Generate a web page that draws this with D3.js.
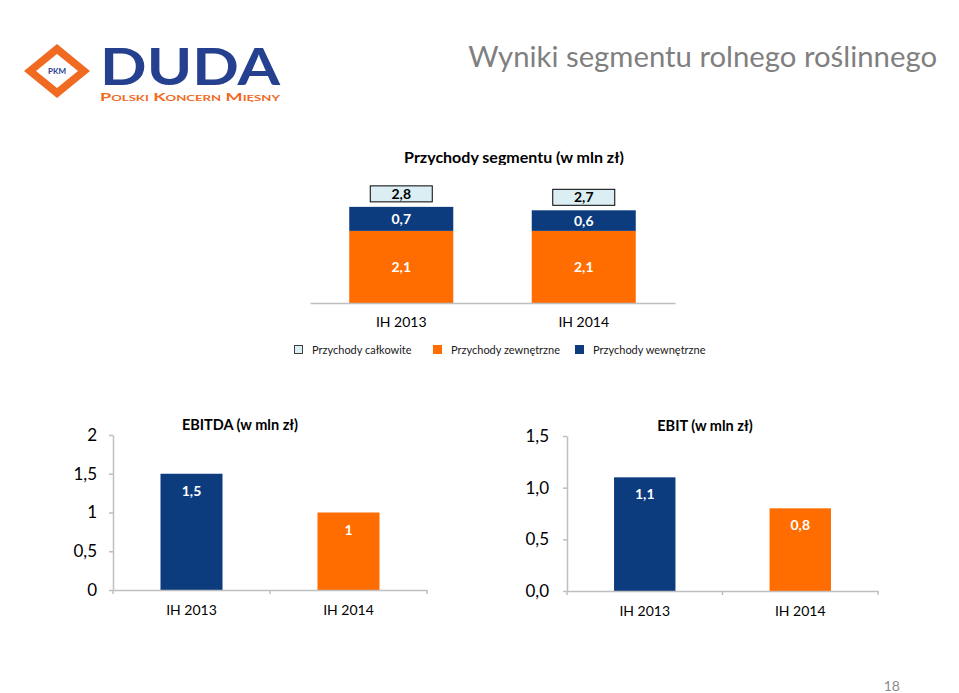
<!DOCTYPE html>
<html><head><meta charset="utf-8">
<script src="https://cdn.jsdelivr.net/npm/d3@7"></script>
<style>
body{margin:0;background:#fff}
svg{display:block}
text{font-family:Lato,"Open Sans",sans-serif}
</style>
</head><body>
<svg id="c" width="959" height="693"></svg>
<script>
// ---- data ----
const periods = ["IH 2013", "IH 2014"];
const revExternal = [2.1, 2.1];
const revInternal = [0.7, 0.6];
const revTotal = [2.8, 2.7];
const revLegend = ["Przychody całkowite", "Przychody zewnętrzne", "Przychody wewnętrzne"];
const ebitda = [1.5, 1];
const ebitdaTicks = [0, 0.5, 1, 1.5, 2];
const ebit = [1.1, 0.8];
const ebitTicks = [0, 0.5, 1.0, 1.5];

const NAVY = "#0c3c7e", ORANGE = "#ff6d00", GRID = "#bfbfbf";
const comma = s => String(s).replace(".", ",");
const fmtG = d => comma(d3.format("~g")(d));
const fmt1 = d => comma(d3.format(".1f")(d));

const svg = d3.select("#c");
svg.append("rect").attr("width", 959).attr("height", 693).attr("fill", "#fff");

// ---- header ----
svg.append("text").attr("x", 937).attr("y", 67).attr("text-anchor", "end")
  .attr("font-size", 29.3).attr("fill", "#7f7f7f").text("Wyniki segmentu rolnego roślinnego");

// logo
const logo = svg.append("g");
const cx = 57, cy = 71;
logo.append("path").attr("fill", "#f06a22")
  .attr("d", `M${cx-33},${cy} L${cx},${cy-27} L${cx+33},${cy} L${cx},${cy+27} Z`);
logo.append("path").attr("fill", "#fff")
  .attr("d", `M${cx-21},${cy} L${cx},${cy-17} L${cx+21},${cy} L${cx},${cy+17} Z`);
logo.append("text").attr("x", cx).attr("y", cy + 3).attr("text-anchor", "middle")
  .attr("font-size", 8).attr("font-weight", "bold").attr("fill", "#25408f").text("PKM");
logo.append("text").attr("x", 100).attr("y", 85).attr("font-size", 52)
  .attr("font-family", "'DejaVu Sans', sans-serif").attr("font-weight", "bold")
  .attr("textLength", 180).attr("lengthAdjust", "spacingAndGlyphs")
  .attr("fill", "#25408f").text("DUDA");
logo.append("text").attr("x", 100).attr("y", 101).attr("font-size", 11)
  .attr("font-family", "'Liberation Sans', sans-serif").attr("font-weight", "bold")
  .style("font-variant", "small-caps")
  .attr("textLength", 180).attr("lengthAdjust", "spacingAndGlyphs")
  .attr("fill", "#f06a22").text("Polski Koncern Mięsny");

// ---- top chart: revenue ----
const defs = svg.append("defs");
defs.append("clipPath").attr("id", "tclip").append("rect")
  .attr("x", 300).attr("y", 140).attr("width", 400).attr("height", 25);
svg.append("text").attr("clip-path", "url(#tclip)")
  .attr("x", 514).attr("y", 163).attr("text-anchor", "middle")
  .attr("font-size", 16).attr("font-weight", "bold").attr("fill", "#000")
  .text("Przychody segmentu (w mln zł)");

const tx = d3.scaleBand().domain(periods).range([310, 675]);
const ty = d3.scaleLinear().domain([0, 3]).range([303, 200]);
const tbw = tx.bandwidth() * 0.57;
const topG = svg.append("g");
periods.forEach((p, i) => {
  const x0 = tx(p) + (tx.bandwidth() - tbw) / 2, xc = tx(p) + tx.bandwidth() / 2;
  topG.append("rect").attr("x", x0).attr("width", tbw)
    .attr("y", ty(revExternal[i])).attr("height", ty(0) - ty(revExternal[i])).attr("fill", ORANGE);
  topG.append("rect").attr("x", x0).attr("width", tbw)
    .attr("y", ty(revExternal[i] + revInternal[i])).attr("height", ty(0) - ty(revInternal[i])).attr("fill", NAVY);
  topG.append("text").attr("x", xc).attr("y", (ty(0) + ty(revExternal[i])) / 2 + 5)
    .attr("text-anchor", "middle").attr("font-size", 14).attr("font-weight", "bold").attr("fill", "#fff")
    .text(fmt1(revExternal[i]));
  topG.append("text").attr("x", xc).attr("y", (ty(revExternal[i]) + ty(revExternal[i] + revInternal[i])) / 2 + 5)
    .attr("text-anchor", "middle").attr("font-size", 14).attr("font-weight", "bold").attr("fill", "#fff")
    .text(fmt1(revInternal[i]));
  const btop = ty(revExternal[i] + revInternal[i]) - 21;
  topG.append("rect").attr("x", xc - 31).attr("y", btop).attr("width", 62).attr("height", 16)
    .attr("fill", "#dbeef4").attr("stroke", "#000").attr("stroke-width", 1);
  topG.append("text").attr("x", xc).attr("y", btop + 13).attr("text-anchor", "middle")
    .attr("font-size", 14).attr("font-weight", "bold").attr("fill", "#000").text(fmt1(revTotal[i]));
});
const txAxis = topG.append("g").attr("transform", `translate(0,${ty(0)})`)
  .call(d3.axisBottom(tx).tickSize(0).tickPadding(14));
txAxis.select(".domain").attr("stroke", GRID).attr("stroke-width", 1.5);
txAxis.selectAll("text").attr("font-size", 14).attr("fill", "#000")
  .attr("font-family", "Lato,'Open Sans',sans-serif");

// legend
const legX = [294, 433, 575];
const legFill = ["#dbeef4", ORANGE, NAVY];
const legStroke = ["#404040", ORANGE, NAVY];
revLegend.forEach((t, i) => {
  topG.append("rect").attr("x", legX[i] + 0.5).attr("y", 345.5).attr("width", 8).attr("height", 8)
    .attr("fill", legFill[i]).attr("stroke", legStroke[i]);
  topG.append("text").attr("x", legX[i] + 18).attr("y", 354).attr("font-size", 11).attr("fill", "#1a1a1a").text(t);
});

// ---- bottom charts ----
function barChart(opts) {
  const g = svg.append("g");
  const x = d3.scaleBand().domain(periods).range([opts.x0, opts.x1]);
  const y = d3.scaleLinear().domain([0, d3.max(opts.ticks)]).range([opts.y0, opts.y1]);
  const bw = x.bandwidth() * 0.395;
  const colors = [NAVY, ORANGE];
  periods.forEach((p, i) => {
    const xc = x(p) + x.bandwidth() / 2;
    g.append("rect").attr("x", xc - bw / 2).attr("width", bw)
      .attr("y", y(opts.values[i])).attr("height", y(0) - y(opts.values[i])).attr("fill", colors[i]);
    g.append("text").attr("x", xc).attr("y", y(opts.values[i]) + 22).attr("text-anchor", "middle")
      .attr("font-size", 14).attr("font-weight", "bold").attr("fill", "#fff").text(opts.label(opts.values[i]));
  });
  const ya = g.append("g").attr("transform", `translate(${opts.x0},0)`)
    .call(d3.axisLeft(y).tickValues(opts.ticks).tickFormat(opts.tick).tickSizeInner(4).tickSizeOuter(0).tickPadding(opts.pad));
  ya.select(".domain").attr("stroke", GRID).attr("stroke-width", 1.5);
  ya.selectAll(".tick line").attr("stroke", GRID).attr("stroke-width", 1.5);
  ya.selectAll("text").attr("font-size", 17).attr("fill", "#000").attr("font-family", "Lato,'Open Sans',sans-serif");
  const xa = g.append("g").attr("transform", `translate(0,${opts.y0})`)
    .call(d3.axisBottom(x).tickSize(0).tickPadding(15));
  xa.select(".domain").attr("stroke", GRID).attr("stroke-width", 1.5);
  xa.selectAll("text").attr("font-size", 14).attr("fill", "#000").attr("font-family", "Lato,'Open Sans',sans-serif");
  const bounds = periods.map(p => x(p)).concat([opts.x1]);
  g.selectAll(".bt").data(bounds).join("line")
    .attr("x1", d => d).attr("x2", d => d).attr("y1", opts.y0).attr("y2", opts.y0 + 4)
    .attr("stroke", GRID).attr("stroke-width", 1.5);
  g.append("text").attr("x", opts.tx).attr("y", opts.ty).attr("text-anchor", "middle")
    .attr("font-size", 14.5).attr("font-weight", "bold").attr("fill", "#000").text(opts.title);
}

barChart({x0: 113, x1: 427, y0: 590, y1: 435, values: ebitda, ticks: ebitdaTicks,
  tick: fmtG, label: fmtG, pad: 12, title: "EBITDA (w mln zł)", tx: 240, ty: 430});
barChart({x0: 567, x1: 878, y0: 591, y1: 436, values: ebit, ticks: ebitTicks,
  tick: fmt1, label: fmt1, pad: 14, title: "EBIT (w mln zł)", tx: 705, ty: 431});

// page number
svg.append("text").attr("x", 900).attr("y", 691).attr("text-anchor", "end")
  .attr("font-size", 14).attr("fill", "#8c8c8c").text("18");
</script>
</body></html>
